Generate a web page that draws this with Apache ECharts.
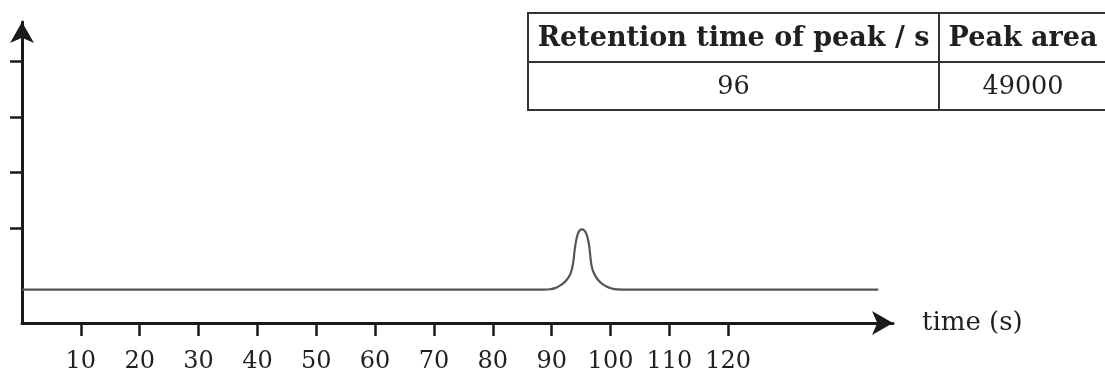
<!DOCTYPE html>
<html>
<head>
<meta charset="utf-8">
<script src="https://cdn.jsdelivr.net/npm/echarts@6/dist/echarts.min.js"></script>
<style>
  html, body { margin: 0; padding: 0; background: #fff; }
  #chart { width: 1105px; height: 376px; }
</style>
</head>
<body>
<div id="chart"></div>
<script>
// 色谱图数据：时间 (s) 与检测器响应 (任意单位，基线为 0)
var times = [0, 60, 85, 88.5, 89.7, 90.7, 91.4, 92.0, 92.6, 93.1, 93.4, 93.6, 93.75, 93.85, 94.0, 94.2, 94.45, 94.75, 95.15, 95.55, 95.85, 96.1, 96.3, 96.45, 96.55, 96.65, 96.8, 97.0, 97.4, 97.9, 98.6, 99.4, 100.2, 101.1, 103, 120, 145.5];
var signal = [0, 0, 0, 0, 0.05, 0.3, 0.7, 1.15, 1.8, 2.6, 3.5, 4.5, 5.5, 6.6, 7.8, 9.0, 10.0, 10.6, 10.8, 10.6, 10.1, 9.3, 8.3, 7.2, 6.2, 5.2, 4.2, 3.4, 2.5, 1.7, 1.0, 0.5, 0.2, 0.03, 0, 0, 0];

// 坐标轴刻度
var xTicks = [10, 20, 30, 40, 50, 60, 70, 80, 90, 100, 110, 120];
var yTicks = [11, 21, 31, 41];

// 右上角表格
var tableHeaders = ['Retention time of peak / s', 'Peak area'];
var tableValues = ['96', '49000'];

var myChart = echarts.init(document.getElementById('chart'));

var serif = '"DejaVu Serif", "Liberation Serif", serif';
var axisColor = '#1a1a1a';

// 表格的几何位置
var tbl = { left: 528, top: 13, mid: 62, bottom: 110, split: 939, right: 1107 };
var colCenters = [(tbl.left + tbl.split) / 2, (tbl.split + tbl.right) / 2];

var graphic = [
    {
        type: 'rect',
        shape: { x: tbl.left, y: tbl.top, width: tbl.right - tbl.left, height: tbl.bottom - tbl.top },
        style: { fill: 'none', stroke: '#333', lineWidth: 2 }
    },
    {
        type: 'line',
        shape: { x1: tbl.left, y1: tbl.mid, x2: tbl.right, y2: tbl.mid },
        style: { stroke: '#333', lineWidth: 2 }
    },
    {
        type: 'line',
        shape: { x1: tbl.split, y1: tbl.top, x2: tbl.split, y2: tbl.bottom },
        style: { stroke: '#333', lineWidth: 2 }
    }
];
tableHeaders.forEach(function (t, i) {
    graphic.push({
        type: 'text',
        x: colCenters[i], y: (tbl.top + tbl.mid) / 2 + 1,
        style: { text: t, fill: '#231f20', font: 'bold 27px ' + serif, align: 'center', verticalAlign: 'middle' }
    });
});
tableValues.forEach(function (t, i) {
    graphic.push({
        type: 'text',
        x: colCenters[i], y: (tbl.mid + tbl.bottom) / 2 + 1,
        style: { text: t, fill: '#231f20', font: '25.5px ' + serif, align: 'center', verticalAlign: 'middle' }
    });
});

var option = {
    animation: false,
    backgroundColor: '#fff',
    grid: { left: 22, right: 212, top: 22, bottom: 53 },
    xAxis: {
        type: 'value',
        min: 0,
        max: 148,
        name: 'time (s)',
        nameLocation: 'end',
        nameGap: 29,
        nameTextStyle: { fontFamily: serif, fontSize: 26, color: '#231f20', verticalAlign: 'middle', align: 'left' },
        axisLine: {
            onZero: false,
            symbol: ['none', 'arrow'],
            symbolSize: [18, 21],
            lineStyle: { color: axisColor, width: 3 }
        },
        axisTick: { show: true, inside: false, length: 13, customValues: xTicks, lineStyle: { color: axisColor, width: 2.5 } },
        axisLabel: { customValues: xTicks, margin: 27, fontFamily: serif, fontSize: 24, color: '#231f20' },
        splitLine: { show: false }
    },
    yAxis: {
        type: 'value',
        min: -6,
        max: 48,
        axisLine: {
            onZero: false,
            symbol: ['none', 'arrow'],
            symbolSize: [18, 21],
            lineStyle: { color: axisColor, width: 3 }
        },
        axisTick: { show: true, inside: false, length: 12, customValues: yTicks, lineStyle: { color: axisColor, width: 2.5 } },
        axisLabel: { show: false },
        splitLine: { show: false }
    },
    series: [
        {
            type: 'line',
            data: times.map(function (t, i) { return [t, signal[i]]; }),
            showSymbol: false,
            smooth: 0.25,
            lineStyle: { color: '#555', width: 2.2 },
            z: 3
        }
    ],
    graphic: graphic
};

myChart.setOption(option);
</script>
</body>
</html>
